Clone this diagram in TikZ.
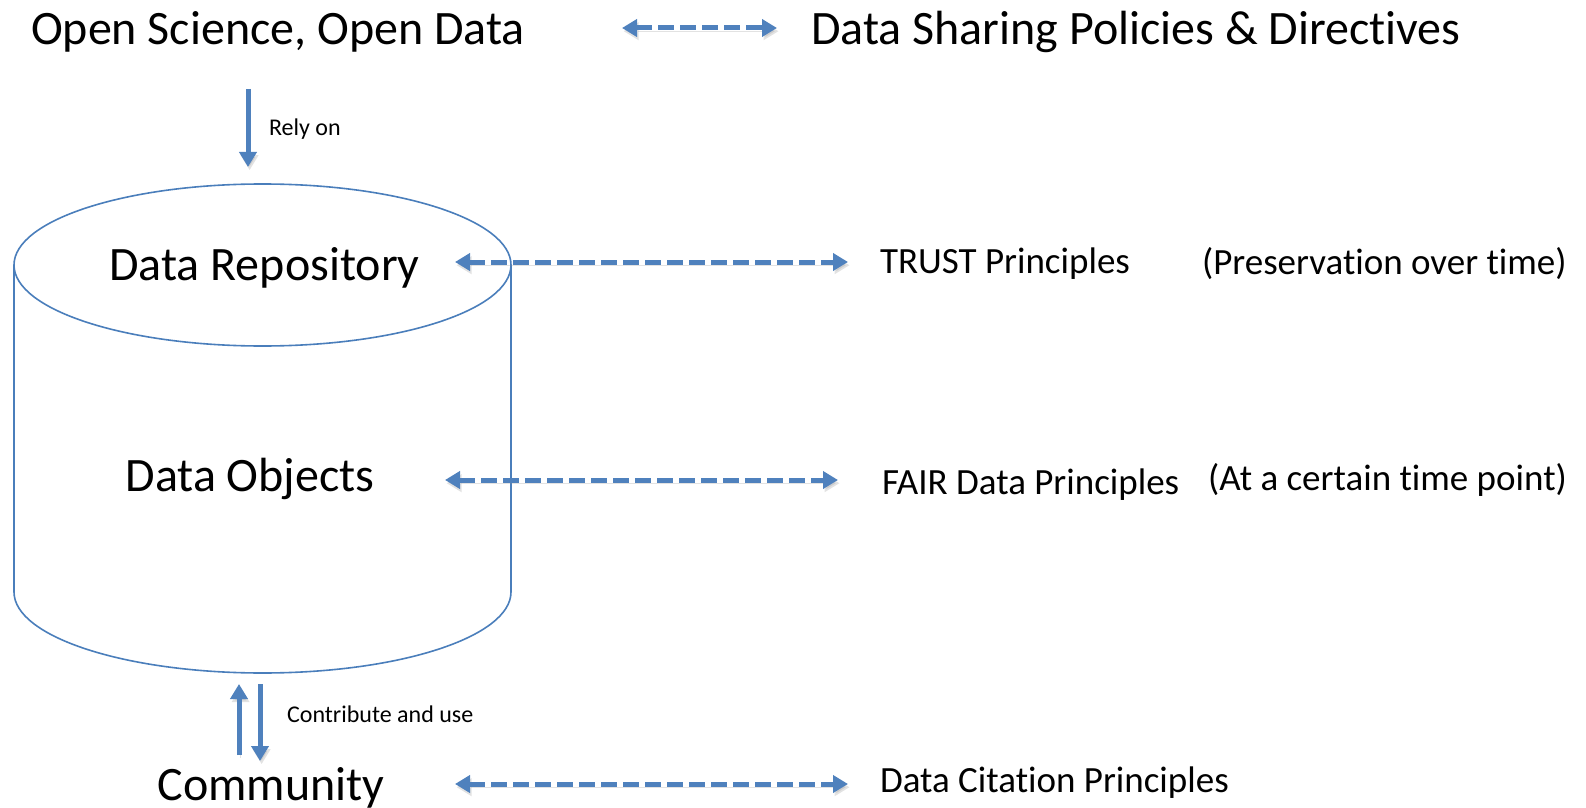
\documentclass[tikz,border=0pt]{standalone}
\usepackage{fontspec}
\setmainfont{Carlito}[Ligatures={NoCommon}]
\usetikzlibrary{arrows.meta}

\definecolor{arrblue}{HTML}{4F81BD}
\definecolor{cylblue}{HTML}{4A7EBB}

\tikzset{
  big/.style={font=\fontsize{24}{28}\selectfont},
  mid/.style={font=\fontsize{18.5}{22}\selectfont},
  tiny/.style={font=\fontsize{12}{14}\selectfont},
  shadowed/.style={preaction={draw=black!45,opacity=0.25,transform canvas={shift={(0.8pt,-1.6pt)}}}},
  relation/.style={shadowed,draw=arrblue,line width=2.5pt,dash pattern=on 8pt off 3pt,
    {Triangle[length=7.5pt,width=8.5pt]}-{Triangle[length=7.5pt,width=8.5pt]}},
  flow/.style={shadowed,draw=arrblue,line width=2.5pt,-{Triangle[length=7.5pt,width=8.5pt]}}
}

\begin{document}
\begin{tikzpicture}[x=0.5pt,y=-0.5pt]
  \useasboundingbox (0,0) rectangle (1586,808);

  % repository drawn as a cylinder
  \draw[cylblue,line width=0.8pt,fill=white]
    (14,265) -- (14,592) arc[start angle=180,end angle=0,x radius=248.5,y radius=81]
    -- (511,265);
  \draw[cylblue,line width=0.8pt] (262.5,265) ellipse[x radius=248.5,y radius=81];

  \node[big] (open) at (278,32) {Open Science, Open Data};
  \node[big] (policy) at (1136,32) {Data Sharing Policies \& Directives};
  \node[big] (repo) at (264.5,268) {Data Repository};
  \node[big] (objects) at (250,479) {Data Objects};
  \node[big] (comm) at (271,788) {Community};

  \node[mid,anchor=west] (trust) at (873,264) {TRUST Principles};
  \node[mid,anchor=west] (pres) at (1195,264) {(Preservation over time)};
  \node[mid,anchor=west] (fair) at (875,485) {FAIR Data Principles};
  \node[mid,anchor=west] (tpoint) at (1201,480) {(At a certain time point)};
  \node[mid,anchor=west] (cite) at (873,783) {Data Citation Principles};

  \coordinate (t1) at (622,28);   \coordinate (t2) at (777,28);
  \coordinate (r1) at (455,262);  \coordinate (r2) at (848,262);
  \coordinate (o1) at (445,480);  \coordinate (o2) at (838,480);
  \coordinate (c1) at (455,784);  \coordinate (c2) at (848,784);

  \draw[relation] (t1) -- (t2);
  \draw[relation] (r1) -- (r2);
  \draw[relation] (o1) -- (o2);
  \draw[relation] (c1) -- (c2);

  \coordinate (ra) at (248,89);   \coordinate (rb) at (248,167);
  \draw[flow] (ra) -- (rb);
  \node[tiny,anchor=west] (rely) at (262,129) {Rely on};

  \coordinate (ua) at (239,755);  \coordinate (ub) at (239,684);
  \coordinate (da) at (260,684);  \coordinate (db) at (260,761);
  \draw[flow] (ua) -- (ub);
  \draw[flow] (da) -- (db);
  \node[tiny,anchor=west] (contrib) at (280,714) {Contribute and use};
\end{tikzpicture}
\end{document}
